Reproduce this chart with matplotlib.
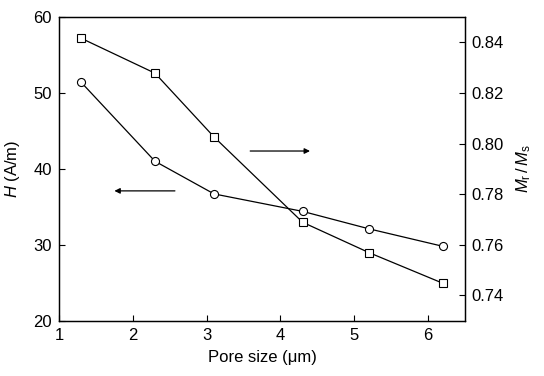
import matplotlib
matplotlib.use('Agg')
import matplotlib.pyplot as plt

# data
pore_size = [1.3, 2.3, 3.1, 4.3, 5.2, 6.2]
H_values = [51.4, 41.0, 36.7, 34.4, 32.1, 29.8]          # left axis, circles
MrMs_values = [0.8416, 0.8278, 0.8026, 0.7689, 0.7569, 0.7448]  # right axis, squares

plt.rcParams['font.family'] = ['Liberation Sans', 'DejaVu Sans']
plt.rcParams['font.size'] = 12
plt.rcParams['mathtext.fontset'] = 'custom'
plt.rcParams['mathtext.rm'] = 'Liberation Sans'
plt.rcParams['mathtext.it'] = 'Liberation Sans:italic'

fig = plt.figure(figsize=(5.44, 3.76), dpi=100)
ax = fig.add_axes([0.1085, 0.147, 0.7463, 0.8078])
ax2 = ax.twinx()

ax.plot(pore_size, H_values, color='black', lw=0.9, marker='o', ms=5.8,
        mfc='white', mec='black', mew=0.8, zorder=3)
ax2.plot(pore_size, MrMs_values, color='black', lw=0.9, marker='s', ms=5.6,
         mfc='white', mec='black', mew=0.8, zorder=3)

ax.set_xlim(1, 6.5)
ax.set_ylim(20, 60)
ax2.set_ylim(0.73, 0.85)
ax.set_xticks([1, 2, 3, 4, 5, 6])
ax.set_yticks([20, 30, 40, 50, 60])
ax2.set_yticks([0.74, 0.76, 0.78, 0.80, 0.82, 0.84])
ax2.set_yticklabels(['0.74', '0.76', '0.78', '0.80', '0.82', '0.84'])

ax.tick_params(axis='x', direction='in', length=4, width=0.8, top=False, pad=5.5)
ax.tick_params(axis='y', direction='in', length=4, width=0.8, right=False, pad=5)
ax2.tick_params(direction='in', length=4, width=0.8, pad=4.5)
for a in (ax, ax2):
    for s in a.spines.values():
        s.set_linewidth(0.9)

ax.set_xlabel('Pore size (\u03bcm)', labelpad=5)
ax.set_ylabel(r'$H$ (A/m)', labelpad=8)
ax2.set_ylabel(r'$M_\mathrm{r}\,/\,M_\mathrm{s}$', rotation=90, labelpad=8)

# arrows pointing to the matching axis
ax.annotate('', xy=(1.75, 37.1), xytext=(2.57, 37.1),
            arrowprops=dict(arrowstyle='-|>', color='black', lw=0.9,
                            mutation_scale=8, shrinkA=0, shrinkB=0))
ax.annotate('', xy=(4.40, 42.35), xytext=(3.59, 42.35),
            arrowprops=dict(arrowstyle='-|>', color='black', lw=0.9,
                            mutation_scale=8, shrinkA=0, shrinkB=0))

fig.savefig('out.png', dpi=100)
